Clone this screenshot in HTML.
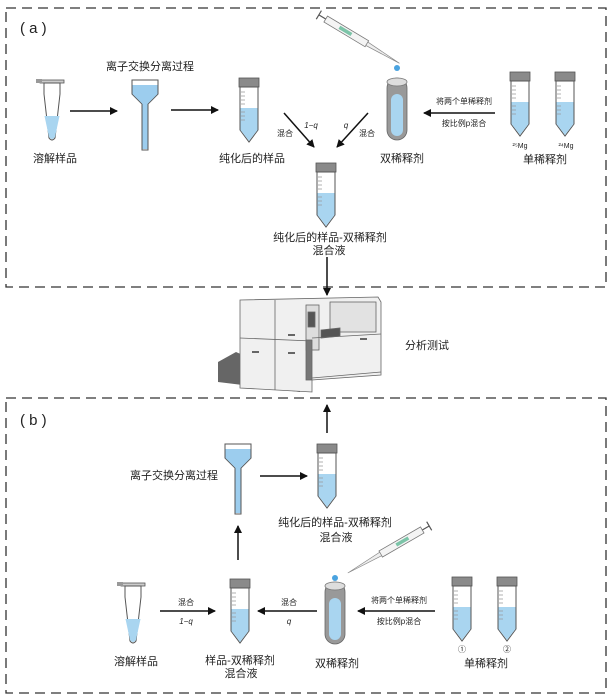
<!DOCTYPE html>
<html><head><meta charset="utf-8"><style>
html,body{margin:0;padding:0;background:#fff}
svg{display:block}
text{font-family:"Liberation Sans","Noto Sans CJK SC",sans-serif;fill:#222}
</style></head><body>
<svg width="612" height="700" viewBox="0 0 612 700" xmlns="http://www.w3.org/2000/svg">
<defs>
<marker id="ah" markerWidth="8" markerHeight="8" refX="7" refY="4" orient="auto" markerUnits="userSpaceOnUse"><path d="M0,0 L8,4 L0,8 Z" fill="#111"/></marker>
<g id="tube">
<rect x="-10" y="0" width="20" height="9" fill="#8a8a8a" stroke="#555" stroke-width="0.8"/>
<path d="M-9,9 L9,9 L9,52 L0,64 L-9,52 Z" fill="#fff" stroke="#555" stroke-width="1"/>
<path d="M-8.5,30 L8.5,30 L8.5,52 L0,63 L-8.5,52 Z" fill="#a9d5f0"/>
<path d="M-8,14h4M-8,18h4M-8,22h4M-8,26h4M-8,34h4M-8,38h4M-8,42h4" stroke="#999" stroke-width="0.7"/>
</g>
<g id="epp">
<rect x="-12" y="0" width="24" height="3" fill="#ccc" stroke="#555" stroke-width="0.8"/>
<rect x="-16" y="-1" width="6" height="4" fill="#999"/>
<path d="M-8,3 L8,3 L8,14 L3,58 Q0,62 -3,58 L-8,14 Z" fill="#fff" stroke="#555" stroke-width="1"/>
<path d="M-7.5,36 L7.5,36 L3,57 Q0,61 -3,57 Z" fill="#a9d5f0"/>
</g>
<g id="fun">
<path d="M-13,0 L13,0 L13,14 L3,24 L3,70 L-3,70 L-3,24 L-13,14 Z" fill="#fff" stroke="#555" stroke-width="1"/>
<path d="M-12.5,5 L12.5,5 L12.5,14 L2.5,24 L2.5,69 L-2.5,69 L-2.5,24 L-12.5,14 Z" fill="#9ccdee"/>
</g>
<g id="dd">
<rect x="-10" y="0" width="20" height="62" rx="10" fill="#999" stroke="#666" stroke-width="0.8"/>
<ellipse cx="0" cy="4" rx="10" ry="4" fill="#ddd" stroke="#777" stroke-width="0.8"/>
<rect x="-6" y="16" width="12" height="42" rx="6" fill="#a9d5f0"/>
</g>
<!-- pipette along +x, tip at x=88 -->
<g id="pip">
<path d="M-6,-5 L-6,5 M-6,0 L2,0" stroke="#555" stroke-width="1.2"/>
<rect x="2" y="-3.5" width="48" height="7" fill="#f4f4f4" stroke="#777" stroke-width="0.8"/>
<rect x="18" y="-1.8" width="14" height="3.6" fill="#7cc4a8"/>
<path d="M50,-2 L88,0 L50,2 Z" fill="#eee" stroke="#888" stroke-width="0.7"/>
</g>
</defs>

<!-- box a -->
<rect x="6" y="8" width="600" height="279" fill="none" stroke="#333" stroke-width="1.3" stroke-dasharray="10,6"/>
<text x="20" y="33" font-size="15" font-family="Liberation Serif">( a )</text>
<use href="#epp" transform="translate(52,80)"/>
<text x="55" y="162" font-size="11" text-anchor="middle">溶解样品</text>
<line x1="70" y1="111" x2="117" y2="111" stroke="#111" stroke-width="1.5" marker-end="url(#ah)"/>
<text x="150" y="70" font-size="11" text-anchor="middle">离子交换分离过程</text>
<use href="#fun" transform="translate(145,80)"/>
<line x1="171" y1="110" x2="218" y2="110" stroke="#111" stroke-width="1.5" marker-end="url(#ah)"/>
<use href="#tube" transform="translate(249,78)"/>
<text x="252" y="162" font-size="11" text-anchor="middle">纯化后的样品</text>
<line x1="284" y1="113" x2="314" y2="147" stroke="#111" stroke-width="1.5" marker-end="url(#ah)"/>
<line x1="368" y1="113" x2="337" y2="147" stroke="#111" stroke-width="1.5" marker-end="url(#ah)"/>
<text x="285" y="136" font-size="8" text-anchor="middle">混合</text>
<text x="311" y="128" font-size="8" text-anchor="middle" font-family="Liberation Serif" font-style="italic">1−q</text>
<text x="346" y="128" font-size="8" text-anchor="middle" font-family="Liberation Serif" font-style="italic">q</text>
<text x="367" y="136" font-size="8" text-anchor="middle">混合</text>
<use href="#tube" transform="translate(326,163)"/>
<text x="330" y="241" font-size="11" text-anchor="middle">纯化后的样品-双稀释剂</text>
<text x="329" y="254" font-size="11" text-anchor="middle">混合液</text>
<line x1="327" y1="257" x2="327" y2="295" stroke="#111" stroke-width="1.5" marker-end="url(#ah)"/>
<use href="#pip" transform="translate(324,18) rotate(31)"/>
<circle cx="397" cy="68" r="3" fill="#4aa3e0"/>
<use href="#dd" transform="translate(397,78)"/>
<text x="402" y="162" font-size="11" text-anchor="middle">双稀释剂</text>
<line x1="495" y1="113" x2="424" y2="113" stroke="#111" stroke-width="1.5" marker-end="url(#ah)"/>
<text x="464" y="104" font-size="8" text-anchor="middle">将两个单稀释剂</text>
<text x="464" y="126" font-size="8" text-anchor="middle">按比例p混合</text>
<use href="#tube" transform="translate(520,72)"/>
<use href="#tube" transform="translate(565,72)"/>
<text x="520" y="148" font-size="7" text-anchor="middle" font-family="Liberation Serif">²⁵Mg</text>
<text x="566" y="148" font-size="7" text-anchor="middle" font-family="Liberation Serif">²⁴Mg</text>
<text x="545" y="163" font-size="11" text-anchor="middle">单稀释剂</text>

<!-- instrument -->
<g stroke="#666" stroke-width="0.8">
<path d="M236,352 L218,362 L218,382 L300,392 L300,380 Z" fill="#666" stroke="none"/>
<path d="M240,300 L378,297 L381,302 L381,375 L312,380 L312,392 L240,388 Z" fill="#f0f0f0"/>
<line x1="240" y1="338" x2="312" y2="341"/>
<line x1="275" y1="300" x2="275" y2="390"/>
<rect x="306" y="305" width="13" height="45" fill="#ddd"/>
<rect x="308" y="312" width="7" height="15" fill="#555"/>
<rect x="330" y="302" width="46" height="30" fill="#e2e2e2"/>
<path d="M321,330 L340,328 L340,336 L321,338 Z" fill="#555"/>
<rect x="306" y="340" width="6" height="40" fill="#777"/>
<line x1="312" y1="338" x2="381" y2="334"/>
<line x1="312" y1="378" x2="381" y2="372"/>
</g>
<g fill="#666"><rect x="288" y="334" width="7" height="2"/><rect x="252" y="351" width="7" height="2"/><rect x="288" y="352" width="7" height="2"/><rect x="360" y="338" width="7" height="2"/></g>
<text x="405" y="349" font-size="11">分析测试</text>

<!-- box b -->
<rect x="6" y="398" width="600" height="295" fill="none" stroke="#333" stroke-width="1.3" stroke-dasharray="10,6"/>
<text x="20" y="425" font-size="15" font-family="Liberation Serif">( b )</text>
<line x1="327" y1="433" x2="327" y2="405" stroke="#111" stroke-width="1.5" marker-end="url(#ah)"/>
<use href="#fun" transform="translate(238,444)"/>
<text x="174" y="479" font-size="11" text-anchor="middle">离子交换分离过程</text>
<line x1="260" y1="476" x2="307" y2="476" stroke="#111" stroke-width="1.5" marker-end="url(#ah)"/>
<use href="#tube" transform="translate(327,444)"/>
<text x="335" y="526" font-size="11" text-anchor="middle">纯化后的样品-双稀释剂</text>
<text x="336" y="541" font-size="11" text-anchor="middle">混合液</text>
<line x1="238" y1="560" x2="238" y2="526" stroke="#111" stroke-width="1.5" marker-end="url(#ah)"/>
<use href="#epp" transform="translate(133,583)"/>
<text x="136" y="665" font-size="11" text-anchor="middle">溶解样品</text>
<line x1="160" y1="611" x2="215" y2="611" stroke="#111" stroke-width="1.5" marker-end="url(#ah)"/>
<text x="186" y="605" font-size="8" text-anchor="middle">混合</text>
<text x="186" y="624" font-size="8" text-anchor="middle" font-family="Liberation Serif" font-style="italic">1−q</text>
<use href="#tube" transform="translate(240,579)"/>
<text x="240" y="664" font-size="11" text-anchor="middle">样品-双稀释剂</text>
<text x="241" y="677" font-size="11" text-anchor="middle">混合液</text>
<line x1="317" y1="611" x2="258" y2="611" stroke="#111" stroke-width="1.5" marker-end="url(#ah)"/>
<text x="289" y="605" font-size="8" text-anchor="middle">混合</text>
<text x="289" y="624" font-size="8" text-anchor="middle" font-family="Liberation Serif" font-style="italic">q</text>
<use href="#pip" transform="translate(424,529) rotate(150)"/>
<circle cx="335" cy="578" r="3" fill="#4aa3e0"/>
<use href="#dd" transform="translate(335,582)"/>
<text x="337" y="667" font-size="11" text-anchor="middle">双稀释剂</text>
<line x1="435" y1="611" x2="358" y2="611" stroke="#111" stroke-width="1.5" marker-end="url(#ah)"/>
<text x="399" y="603" font-size="8" text-anchor="middle">将两个单稀释剂</text>
<text x="399" y="624" font-size="8" text-anchor="middle">按比例p混合</text>
<use href="#tube" transform="translate(462,577)"/>
<use href="#tube" transform="translate(507,577)"/>
<text x="462" y="652" font-size="8" text-anchor="middle">①</text>
<text x="507" y="652" font-size="8" text-anchor="middle">②</text>
<text x="486" y="667" font-size="11" text-anchor="middle">单稀释剂</text>
</svg>
</body></html>
